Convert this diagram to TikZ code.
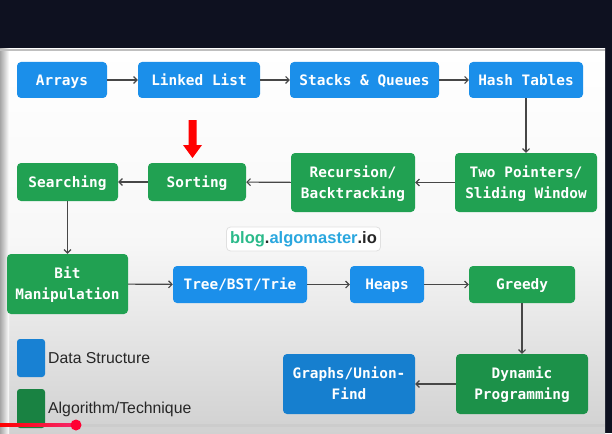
\documentclass[tikz,border=0pt]{standalone}
\usepackage{fontspec}
\setmainfont{Liberation Sans}
\setmonofont{DejaVu Sans Mono}
\usetikzlibrary{arrows.meta}
\definecolor{dsblue}{HTML}{1B8FEA}
\definecolor{dsbluedark}{HTML}{167FCF}
\definecolor{alggreen}{HTML}{21A152}
\definecolor{alggreendark}{HTML}{1C9149}
\definecolor{conn}{HTML}{474747}
\definecolor{bgdark}{HTML}{0E1120}
\definecolor{bloggreen}{HTML}{2BBA8A}
\definecolor{blogblue}{HTML}{2AA7DF}
\definecolor{barpink}{HTML}{F5286E}
\definecolor{dotred}{HTML}{FF0033}
\begin{document}
\begin{tikzpicture}[x=1pt,y=-1pt,
  box/.style={rounded corners=4pt, text=white, align=center,
    font=\fontsize{14.4}{21}\ttfamily\bfseries, inner sep=0pt},
  one/.style={text height=10.5pt, text depth=0pt},
  twoline/.style={text height=31.5pt, text depth=0pt},
  ds/.style={box, fill=dsblue},
  alg/.style={box, fill=alggreen},
  conn/.style={draw=conn, line width=1.1pt, -{Straight Barb[length=3.5pt,width=7pt]}},
  legtext/.style={anchor=west, font=\fontsize{15.8}{18}\selectfont, text=black!85, inner sep=0pt}]
\useasboundingbox (0,0) rectangle (612,433);
% background
\fill[bgdark] (0,0) rectangle (612,433);
\shade[top color=white, bottom color=white!82!black, middle color=white!97!black] (0,49) rectangle (605,433);
\shade[left color=black!35, right color=white, shading angle=90] (0,49) rectangle (9,433);
\fill[white!75!black] (0,49) rectangle (605,51);
% nodes
\node[ds, one, minimum width=90pt, minimum height=36pt] (arrays) at (62,80) {Arrays};
\node[ds, one, minimum width=122pt, minimum height=36pt] (linked) at (199,80) {Linked List};
\node[ds, one, minimum width=149pt, minimum height=36pt] (stacks) at (364.5,80) {Stacks \& Queues};
\node[ds, one, minimum width=114pt, minimum height=36pt] (hash) at (526,80) {Hash Tables};
\node[alg, twoline, minimum width=142pt, minimum height=59pt] (twop) at (526,182.5) {Two Pointers/\\Sliding Window};
\node[alg, twoline, minimum width=124pt, minimum height=59pt] (rec) at (353,182.5) {Recursion/\\Backtracking};
\node[alg, one, minimum width=98pt, minimum height=38pt] (sort) at (197,182) {Sorting};
\node[alg, one, minimum width=101pt, minimum height=38pt] (search) at (67.5,182) {Searching};
\node[alg, twoline, minimum width=121pt, minimum height=60pt] (bit) at (67.5,284) {Bit\\Manipulation};
\node[ds, one, minimum width=134pt, minimum height=37pt] (tree) at (240,284.5) {Tree/BST/Trie};
\node[ds, one, minimum width=74pt, minimum height=37pt] (heaps) at (387,284.5) {Heaps};
\node[alg, one, minimum width=106pt, minimum height=37pt] (greedy) at (522,284.5) {Greedy};
\node[alg, twoline, fill=alggreendark, minimum width=132pt, minimum height=60pt] (dp) at (522,384) {Dynamic\\Programming};
\node[ds, twoline, fill=dsbluedark, minimum width=132pt, minimum height=60pt] (graphs) at (349,384) {Graphs/Union-\\Find};
% connectors
\draw[conn] (arrays) -- (linked);
\draw[conn] (linked) -- (stacks);
\draw[conn] (stacks) -- (hash);
\draw[conn] (hash) -- (twop);
\draw[conn] (twop) -- (rec);
\draw[conn] (rec) -- (sort);
\draw[conn] (sort) -- (search);
\draw[conn] (search) -- (bit);
\draw[conn] (bit) -- (tree);
\draw[conn] (tree) -- (heaps);
\draw[conn] (heaps) -- (greedy);
\draw[conn] (greedy) -- (dp);
\draw[conn] (dp) -- (graphs);
% red marker arrow
\fill[red] (188.5,120) -- (196.5,120) -- (196.5,145) -- (202,145) -- (192.5,158) -- (183,145) -- (188.5,145) -- cycle;
% blog label
\node[draw=black!12, fill=white, rounded corners=4pt, line width=0.8pt,
  minimum width=154pt, minimum height=24pt, inner sep=0pt,
  font=\fontsize{16.5}{18}\selectfont\bfseries] (blog) at (303.5,239)
  {\textcolor{bloggreen}{blog}\textcolor{black!85}{.}\textcolor{blogblue}{algomaster}\textcolor{black!85}{.io}};
% legend
\node[rounded corners=3pt, fill=dsblue!90!black, minimum width=28pt, minimum height=38pt, inner sep=0pt] (legds) at (31,358) {};
\node[legtext] (legdstext) at (48,358) {Data Structure};
\node[rounded corners=3pt, fill=alggreendark!90!black, minimum width=28pt, minimum height=39pt, inner sep=0pt] (legalg) at (31,408.5) {};
\node[legtext] (legalgtext) at (48,409) {Algorithm/Technique};
% progress bar
\fill[white!80!black] (80,423.5) rectangle (605,426.5);
\shade[left color=red, right color=barpink] (0,423.5) rectangle (76,426.5);
\fill[dotred] (76,425) circle (5.5);
\end{tikzpicture}
\end{document}
